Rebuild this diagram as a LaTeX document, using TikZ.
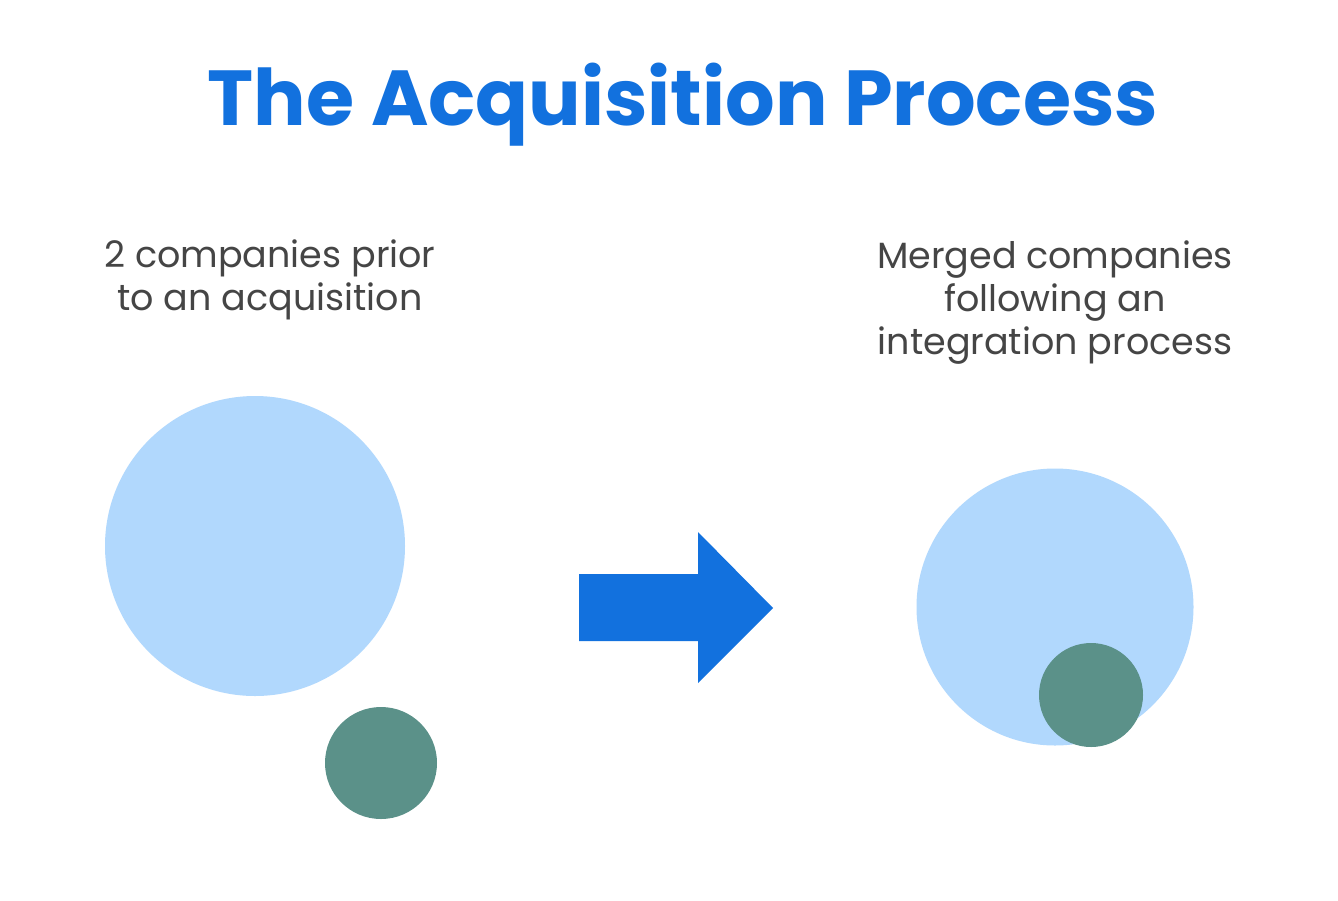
\documentclass[tikz,border=0pt]{standalone}
\usepackage{fontspec}
\setmainfont{Poppins}
\definecolor{titleblue}{HTML}{1271DE}
\definecolor{lightblue}{HTML}{B1D8FD}
\definecolor{teal}{HTML}{5B9189}
\definecolor{textgray}{HTML}{454545}
\begin{document}
\begin{tikzpicture}[x=1pt,y=-1pt,
  title/.style={font=\fontsize{78}{82}\selectfont\bfseries, text=titleblue, inner sep=0pt},
  caption/.style={font=\fontsize{36.5}{43}\selectfont, text=textgray, align=center, inner sep=0pt},
  bigco/.style={circle, fill=lightblue, draw=none, inner sep=0pt},
  smallco/.style={circle, fill=teal, draw=none, inner sep=0pt}]
\fill[white] (0,0) rectangle (1338,900);
\useasboundingbox (0,0) rectangle (1338,900);
\node[title, anchor=base] (title) at (683,125) {The Acquisition Process};
\node[caption, anchor=base] (lefttext) at (270,310) {2 companies prior\\to an acquisition};
\node[caption, anchor=base] (righttext) at (1055,354) {Merged companies\\following an\\integration process};
\node[bigco, minimum size=300pt] (leftbig) at (255,546) {};
\node[smallco, minimum size=112pt] (leftsmall) at (381,763) {};
\node[bigco, minimum size=277pt] (rightbig) at (1055,607) {};
\node[smallco, minimum size=104pt] (rightsmall) at (1091,695) {};
\fill[titleblue] (579,574) -- (698,574) -- (698,532) -- (773,608) -- (698,683) -- (698,641) -- (579,641) -- cycle;
\end{tikzpicture}
\end{document}
